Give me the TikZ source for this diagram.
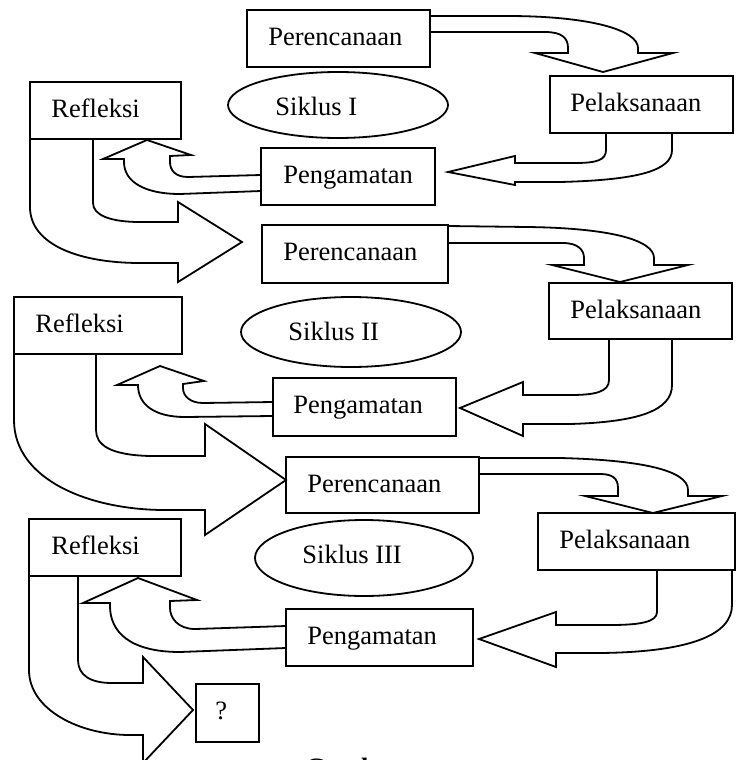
\documentclass[tikz,border=0pt]{standalone}
\usepackage{fontspec}
\setmainfont{Liberation Serif}
\usetikzlibrary{shapes.geometric}
\begin{document}
\begin{tikzpicture}[x=0.5pt,y=-0.5pt,
  font=\fontsize{13.25}{16}\selectfont,
  blk/.style={draw=black, line width=0.9pt, fill=white, line join=miter, miter limit=10},
  bx/.style={draw=black, line width=0.9pt, inner sep=0pt, outer sep=0pt, anchor=north west},
  lbl/.style={anchor=base west, inner sep=0pt, xshift=10.5pt, yshift=-17.5pt},
  ell/.style={ellipse, draw=black, line width=0.9pt, inner sep=0pt},
  eltxt/.style={anchor=base west, inner sep=0pt}]
\useasboundingbox (0,0) rectangle (737,760);

% ---------- block arrows ----------
% Perencanaan I -> Pelaksanaan I
\draw[blk] (430,16) -- (507,16) .. controls (590,16) and (638,30) .. (638,48) -- (638,53)
  -- (673,53) -- (603,72) -- (535,53) -- (568,53) -- (568,48)
  .. controls (568,38) and (562,32) .. (545,32) -- (430,32) -- cycle;
% Pelaksanaan I -> Pengamatan I
\draw[blk] (606,133) -- (606,150) .. controls (606,160) and (597,163) .. (575,163) -- (515,163)
  -- (515,156) -- (448,172) -- (515,185) -- (515,182) -- (560,182)
  .. controls (640,180) and (672,170) .. (672,150) -- (672,133) -- cycle;
% Pengamatan I -> Refleksi I
\draw[blk] (261,175) -- (188,177) .. controls (175,177) and (170,170) .. (170,162) -- (170,156)
  -- (191,155) -- (147,140) -- (103,159) -- (124,159) -- (124,162)
  .. controls (124,182) and (145,194) .. (180,194) -- (261,191) -- cycle;
% Refleksi I -> Perencanaan II
\draw[blk] (30,139) -- (30,207) .. controls (30,245) and (80,263) .. (140,263) -- (178,263)
  -- (178,282) -- (242,242) -- (178,202) -- (178,222) -- (140,222)
  .. controls (110,222) and (93,215) .. (93,203) -- (93,139) -- cycle;
% Perencanaan II -> Pelaksanaan II
\draw[blk] (448,226) -- (527,227) .. controls (610,228) and (654,240) .. (654,258) -- (654,265)
  -- (688,265) -- (620,282) -- (552,265) -- (584,265) -- (584,258)
  .. controls (584,250) and (578,243) .. (563,243) -- (448,243) -- cycle;
% Pelaksanaan II -> Pengamatan II
\draw[blk] (609,339) -- (609,380) .. controls (609,392) and (595,395) .. (570,395) -- (523,395)
  -- (523,382) -- (460,408) -- (523,436) -- (523,424) -- (570,424)
  .. controls (640,422) and (672,410) .. (672,385) -- (672,339) -- cycle;
% Pengamatan II -> Refleksi II
\draw[blk] (273,402) -- (203,403) .. controls (190,403) and (183,396) .. (183,388) -- (183,384)
  -- (204,381) -- (160,366) -- (117,385) -- (138,385)
  .. controls (138,405) and (155,417) .. (185,417) -- (273,416) -- cycle;
% Refleksi II -> Perencanaan III
\draw[blk] (14,354) -- (14,420) .. controls (14,480) and (90,510) .. (165,510) -- (205,510)
  -- (205,535) -- (286,480) -- (205,424) -- (205,456) -- (150,456)
  .. controls (110,455) and (96,445) .. (96,430) -- (96,354) -- cycle;
% Perencanaan III -> Pelaksanaan III
\draw[blk] (479,458) -- (560,458) .. controls (640,460) and (688,470) .. (688,490) -- (688,496)
  -- (722,496) -- (653,513) -- (585,496) -- (618,496) -- (618,488)
  .. controls (618,478) and (612,474) .. (600,474) -- (479,474) -- cycle;
% Pelaksanaan III -> Pengamatan III
\draw[blk] (657,570) -- (657,612) .. controls (657,622) and (640,625) .. (610,625) -- (556,625)
  -- (556,612) -- (479,639) -- (556,667) -- (556,653) -- (600,653)
  .. controls (690,652) and (732,635) .. (732,605) -- (732,570) -- cycle;
% Pengamatan III -> Refleksi III
\draw[blk] (286,626) -- (195,629) .. controls (178,629) and (170,618) .. (170,608) -- (170,601)
  -- (197,600) -- (138,578) -- (83,603) -- (110,603) -- (110,606)
  .. controls (110,632) and (130,652) .. (180,652) -- (286,648) -- cycle;
% Refleksi III -> ?
\draw[blk] (29,576) -- (29,670) .. controls (29,710) and (80,735) .. (130,735) -- (143,735)
  -- (143,763) -- (193,710) -- (143,657) -- (143,683) -- (112,683)
  .. controls (90,683) and (78,675) .. (78,660) -- (78,576) -- cycle;

% ---------- boxes ----------
\node[bx, minimum width=91.5pt, minimum height=28.5pt, label={[lbl]north west:Perencanaan}] (p1) at (247,10) {};
\node[bx, minimum width=91.5pt, minimum height=28.5pt, label={[lbl,xshift=-0.5pt]north west:Pelaksanaan}] (l1) at (550,76) {};
\node[bx, minimum width=75.5pt, minimum height=28.5pt, label={[lbl]north west:Refleksi}] (r1) at (30,82) {};
\node[bx, minimum width=87pt, minimum height=28.5pt, label={[lbl,xshift=0.5pt]north west:Pengamatan}] (g1) at (261,148) {};

\node[bx, minimum width=93pt, minimum height=29pt, label={[lbl]north west:Perencanaan}] (p2) at (262,225) {};
\node[bx, minimum width=91.5pt, minimum height=28pt, label={[lbl]north west:Pelaksanaan}] (l2) at (549,283) {};
\node[bx, minimum width=84pt, minimum height=28.5pt, label={[lbl]north west:Refleksi}] (r2) at (14,297) {};
\node[bx, minimum width=91.5pt, minimum height=29pt, label={[lbl,xshift=-0.5pt]north west:Pengamatan}] (g2) at (273,378) {};

\node[bx, minimum width=96.5pt, minimum height=28pt, label={[lbl]north west:Perencanaan}] (p3) at (286,457) {};
\node[bx, minimum width=98.5pt, minimum height=28.5pt, label={[lbl]north west:Pelaksanaan}] (l3) at (538,513) {};
\node[bx, minimum width=76pt, minimum height=28.5pt, label={[lbl,xshift=0.5pt]north west:Refleksi}] (r3) at (29,519) {};
\node[bx, minimum width=93.5pt, minimum height=28.5pt, label={[lbl]north west:Pengamatan}] (g3) at (286,609) {};

\node[bx, minimum width=31.5pt, minimum height=29pt, label={[lbl,xshift=-1pt]north west:?}] (q) at (196,684) {};

% ---------- ellipses ----------
\node[ell, minimum width=110pt, minimum height=33pt] (e1) at (338,105) {};
\node[eltxt] (e1t) at (275,115) {Siklus I};
\node[ell, minimum width=110pt, minimum height=35pt] (e2) at (351,332) {};
\node[eltxt] (e2t) at (288,340) {Siklus II};
\node[ell, minimum width=109pt, minimum height=38pt] (e3) at (364,558) {};
\node[eltxt] (e3t) at (302,563) {Siklus III};

% ---------- caption (cut off by the page edge) ----------
\node[anchor=base west, inner sep=0pt, font=\fontsize{13.25}{16}\selectfont\bfseries] (cap) at (305,776) {Gambar};
\end{tikzpicture}
\end{document}
